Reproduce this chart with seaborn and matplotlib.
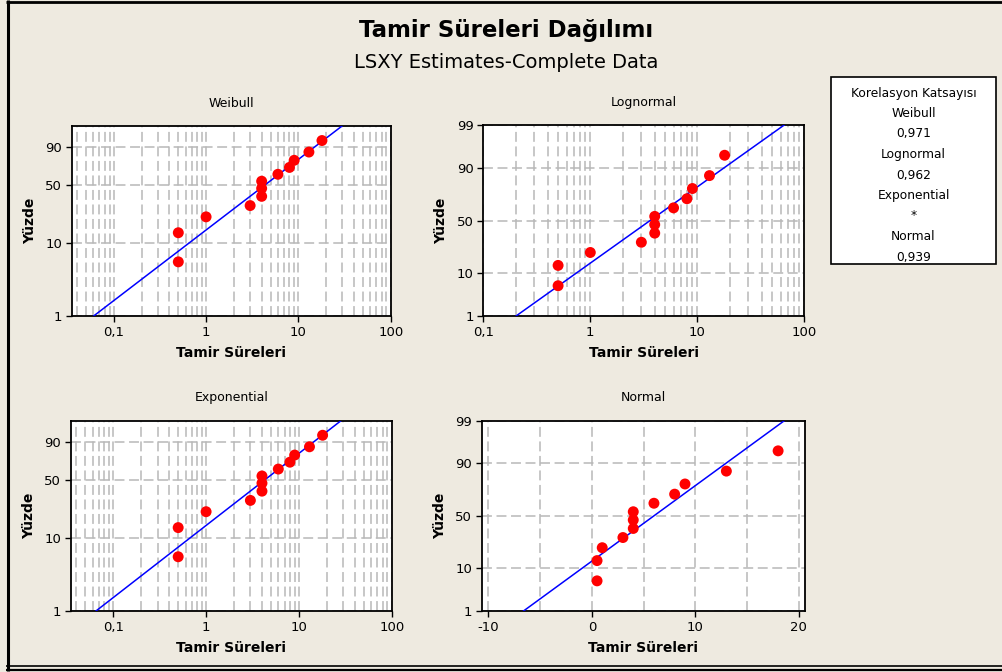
import numpy as np
import pandas as pd
import matplotlib
matplotlib.use("Agg")
import matplotlib.pyplot as plt
from matplotlib.lines import Line2D
from matplotlib.patches import Rectangle
from matplotlib.ticker import FixedLocator, LogLocator, NullFormatter
from statistics import NormalDist
import seaborn as sns

# ---------------- data ----------------
repair_times = [0.5, 0.5, 1, 3, 4, 4, 4, 6, 8, 9, 13, 18]
percent = [5.6, 13.7, 21.8, 29.8, 37.9, 46.0, 54.0, 62.1, 70.2, 78.2, 86.3, 94.4]

# fitted (LSXY) line end points: (x at 1 %, x at 99 %)
line_pct = [1, 99]
weibull_line_x = [0.0605, 29.7]
lognormal_line_x = [0.2024, 64.9]
exponential_line_x = [0.065, 28.4]
normal_line_x = [-6.61, 18.6]

panel_titles = ["Weibull", "Lognormal", "Exponential", "Normal"]
corr_names = ["Weibull", "Lognormal", "Exponential", "Normal"]
corr_values = ["0,971", "0,962", "*", "0,939"]

log_ticks = [0.1, 1, 10, 100]
log_tick_labels = ["0,1", "1", "10", "100"]
normal_x_ticks = [-10, 0, 10, 20]
normal_x_minor = [-5, 5, 15]
y_ticks_weib = [1, 10, 50, 90]
y_ticks_norm = [1, 10, 50, 90, 99]

# ---------------- style ----------------
BG = "#EEEAE0"
plt.rcParams["font.family"] = ["DejaVu Sans"]

fig = plt.figure(figsize=(10.02, 6.72), dpi=100, facecolor=BG)


def clipp(p):
    return np.clip(np.asarray(p, dtype=float) / 100.0, 1e-9, 1 - 1e-9)


def weib_fwd(p):
    q = clipp(p)
    return np.log(-np.log(1 - q))


def weib_inv(y):
    return 100.0 * (1 - np.exp(-np.exp(np.asarray(y, dtype=float))))


_nd = NormalDist()
_inv = np.vectorize(lambda q: _nd.inv_cdf(float(q)), otypes=[float])
_cdf = np.vectorize(lambda z: _nd.cdf(float(z)), otypes=[float])


def norm_fwd(p):
    return _inv(clipp(p))


def norm_inv(z):
    return 100.0 * _cdf(np.asarray(z, dtype=float))


def px_axes(l, t, r, b):
    W, H = 1002.0, 672.0
    return [l / W, 1 - b / H, (r - l) / W, (b - t) / H]


rects = [
    px_axes(71.7, 126, 390.7, 316),
    px_axes(483.3, 125, 804.3, 316),
    px_axes(71.0, 420.7, 391.7, 611),
    px_axes(481.7, 420.7, 805.0, 611),
]
lines_x = [weibull_line_x, lognormal_line_x, exponential_line_x, normal_line_x]
grid_kw = dict(color="#B8B8B8", linestyle=(0, (6.5, 3)), linewidth=1.1)

df = pd.DataFrame({"x": repair_times, "p": percent})

for i, rect in enumerate(rects):
    ax = fig.add_axes(rect)
    ax.set_facecolor("white")
    kind = panel_titles[i]
    if kind in ("Weibull", "Exponential"):
        ax.set_yscale("function", functions=(weib_fwd, weib_inv))
        yt = y_ticks_weib
    else:
        ax.set_yscale("function", functions=(norm_fwd, norm_inv))
        yt = y_ticks_norm
    ax.set_ylim(1, 99)
    ax.set_yticks(yt)
    ax.set_yticklabels([str(v) for v in yt])
    ax.yaxis.set_minor_locator(FixedLocator([]))

    if kind == "Normal":
        ax.set_xlim(-10.65, 20.6)
        ax.set_xticks(normal_x_ticks)
        ax.set_xticklabels([str(v) for v in normal_x_ticks])
        ax.set_xticks(normal_x_minor, minor=True)
    else:
        ax.set_xscale("log")
        ax.set_xlim(0.1 if kind == "Lognormal" else 0.035, 100)
        ax.set_xticks(log_ticks)
        ax.set_xticklabels(log_tick_labels)
        ax.xaxis.set_minor_locator(LogLocator(base=10, subs=np.arange(2, 10)))
        ax.xaxis.set_minor_formatter(NullFormatter())

    ax.grid(True, which="major", axis="both", zorder=0, **grid_kw)
    ax.grid(True, which="minor", axis="x", zorder=0, **grid_kw)
    ax.set_axisbelow(True)

    sns.lineplot(x=lines_x[i], y=line_pct, ax=ax, color="#0000FF",
                 linewidth=1.1, sort=False, zorder=3)
    sns.scatterplot(data=df, x="x", y="p", ax=ax, color="#FF0000", s=62,
                    edgecolor="none", linewidth=0, zorder=4)

    for sp in ax.spines.values():
        sp.set_color("black")
        sp.set_linewidth(1.3)
    ax.tick_params(axis="both", which="major", direction="out", length=4,
                   width=1, labelsize=9.5, pad=3, colors="black")
    ax.tick_params(axis="both", which="minor", length=0)
    ax.set_title(kind, fontsize=9, pad=14)
    ax.set_xlabel("Tamir Süreleri", fontsize=10, fontweight="bold", labelpad=5)
    ax.set_ylabel("Yüzde", fontsize=10, fontweight="bold", labelpad=6)

# titles
fig.text(0.505, 0.955, "Tamir Süreleri Dağılımı", ha="center", va="center",
         fontsize=16.5, fontweight="bold")
fig.text(0.505, 0.9077, "LSXY Estimates-Complete Data", ha="center",
         va="center", fontsize=14)

# correlation box
W, H = 1002.0, 672.0
fig.add_artist(Rectangle((830.7 / W, 1 - 264 / H), (996 - 830.7) / W,
                         (264 - 77) / H, transform=fig.transFigure,
                         facecolor="white", edgecolor="black", linewidth=1.2))
box_lines = ["Korelasyon Katsayısı"]
for n, v in zip(corr_names, corr_values):
    box_lines += [n, v]
for k, s in enumerate(box_lines):
    yy = 93 + k * 20.5
    fig.text(913.5 / W, 1 - yy / H, s, ha="center", va="center", fontsize=8.8)

# outer frame lines
def fline(xs, ys, lw):
    fig.add_artist(Line2D([x / W for x in xs], [1 - y / H for y in ys],
                          transform=fig.transFigure, color="black",
                          linewidth=lw, solid_capstyle="butt"))

fline([7.5, 7.5], [0, 671], 2.2)
fline([6, 1002], [1.5, 1.5], 2.0)
fline([6, 1002], [665.8, 665.8], 1.2)
fline([6, 1002], [669.5, 669.5], 1.6)

fig.savefig("out.png", dpi=100, facecolor=BG)
